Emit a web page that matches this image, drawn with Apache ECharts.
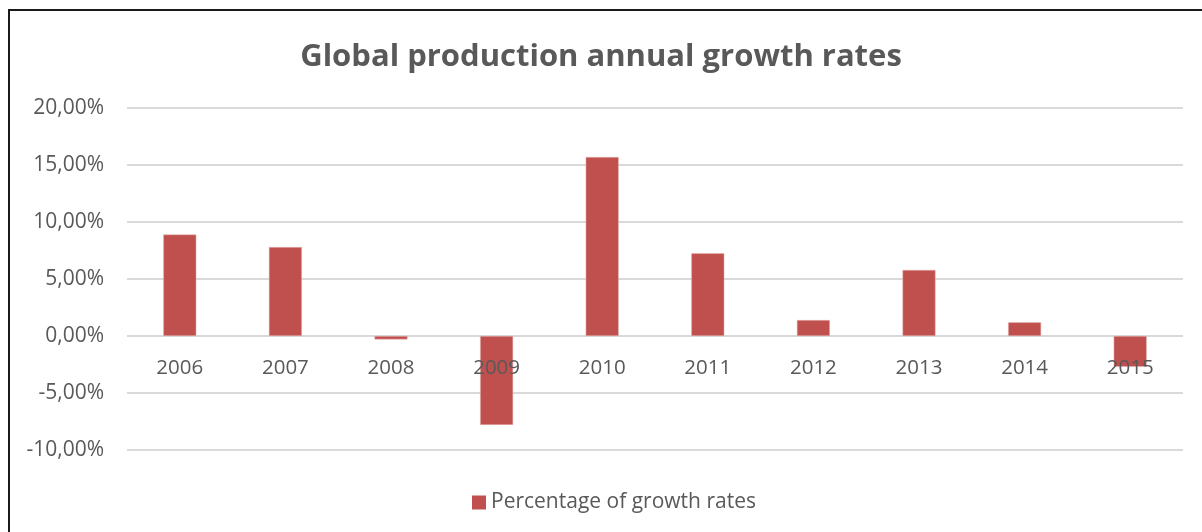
<!DOCTYPE html>
<html>
<head>
<meta charset="utf-8">
<script src="https://cdn.jsdelivr.net/npm/echarts@6/dist/echarts.min.js"></script>
<style>
html,body{margin:0;padding:0;background:#fff;}
#chart{width:1202px;height:532px;}
#frame{position:absolute;left:8px;top:9px;width:1300px;height:600px;border:2px solid #1a1a1a;box-sizing:border-box;pointer-events:none;}
</style>
</head>
<body>
<div id="chart"></div>
<div id="frame"></div>
<script>
const categories = ['2006','2007','2008','2009','2010','2011','2012','2013','2014','2015'];
const growthRates = [8.9, 7.8, -0.3, -7.8, 15.7, 7.25, 1.4, 5.8, 1.2, -2.7];
const yTicks = {min: -10, max: 20, interval: 5};
const seriesName = 'Percentage of growth rates';
const titleText = 'Global production annual growth rates';

const chart = echarts.init(document.getElementById('chart'), null, {renderer: 'canvas'});
const fontFam = '"Open Sans", "Noto Sans", sans-serif';
const gridTop = 108, gridHeight = 342;
const zeroOffset = gridHeight * (0 - yTicks.min) / (yTicks.max - yTicks.min);
chart.setOption({
  animation: false,
  backgroundColor: '#fff',
  title: {
    text: titleText,
    left: 'center',
    top: 37,
    textStyle: {fontFamily: fontFam, fontSize: 31, fontWeight: 'bold', color: '#595959'}
  },
  legend: {
    top: 492,
    left: 472,
    icon: 'rect',
    itemWidth: 14,
    itemHeight: 14,
    itemGap: 6,
    padding: 0,
    itemStyle: {borderWidth: 0},
    textStyle: {fontFamily: fontFam, fontSize: 21, color: '#595959'},
    data: [seriesName]
  },
  grid: {left: 127, right: 19, top: gridTop, height: gridHeight, containLabel: false},
  xAxis: {
    type: 'category',
    data: categories,
    offset: -zeroOffset,
    z: 5,
    axisLine: {show: false, onZero: false},
    axisTick: {show: false},
    axisLabel: {fontFamily: fontFam, fontSize: 20.5, color: '#595959', margin: 22}
  },
  yAxis: {
    type: 'value',
    min: yTicks.min,
    max: yTicks.max,
    interval: yTicks.interval,
    axisLine: {show: false},
    axisTick: {show: false},
    splitLine: {lineStyle: {color: '#d9d9d9', width: 2}},
    axisLabel: {
      fontFamily: fontFam, fontSize: 21, color: '#595959', margin: 23,
      formatter: v => v.toFixed(2).replace('.', ',') + '%'
    }
  },
  series: [{
    name: seriesName,
    type: 'bar',
    data: growthRates,
    barWidth: 33,
    itemStyle: {color: '#c0504d', borderColor: '#e6b8b7', borderWidth: 0.5},
    z: 1
  }]
});
</script>
</body>
</html>
